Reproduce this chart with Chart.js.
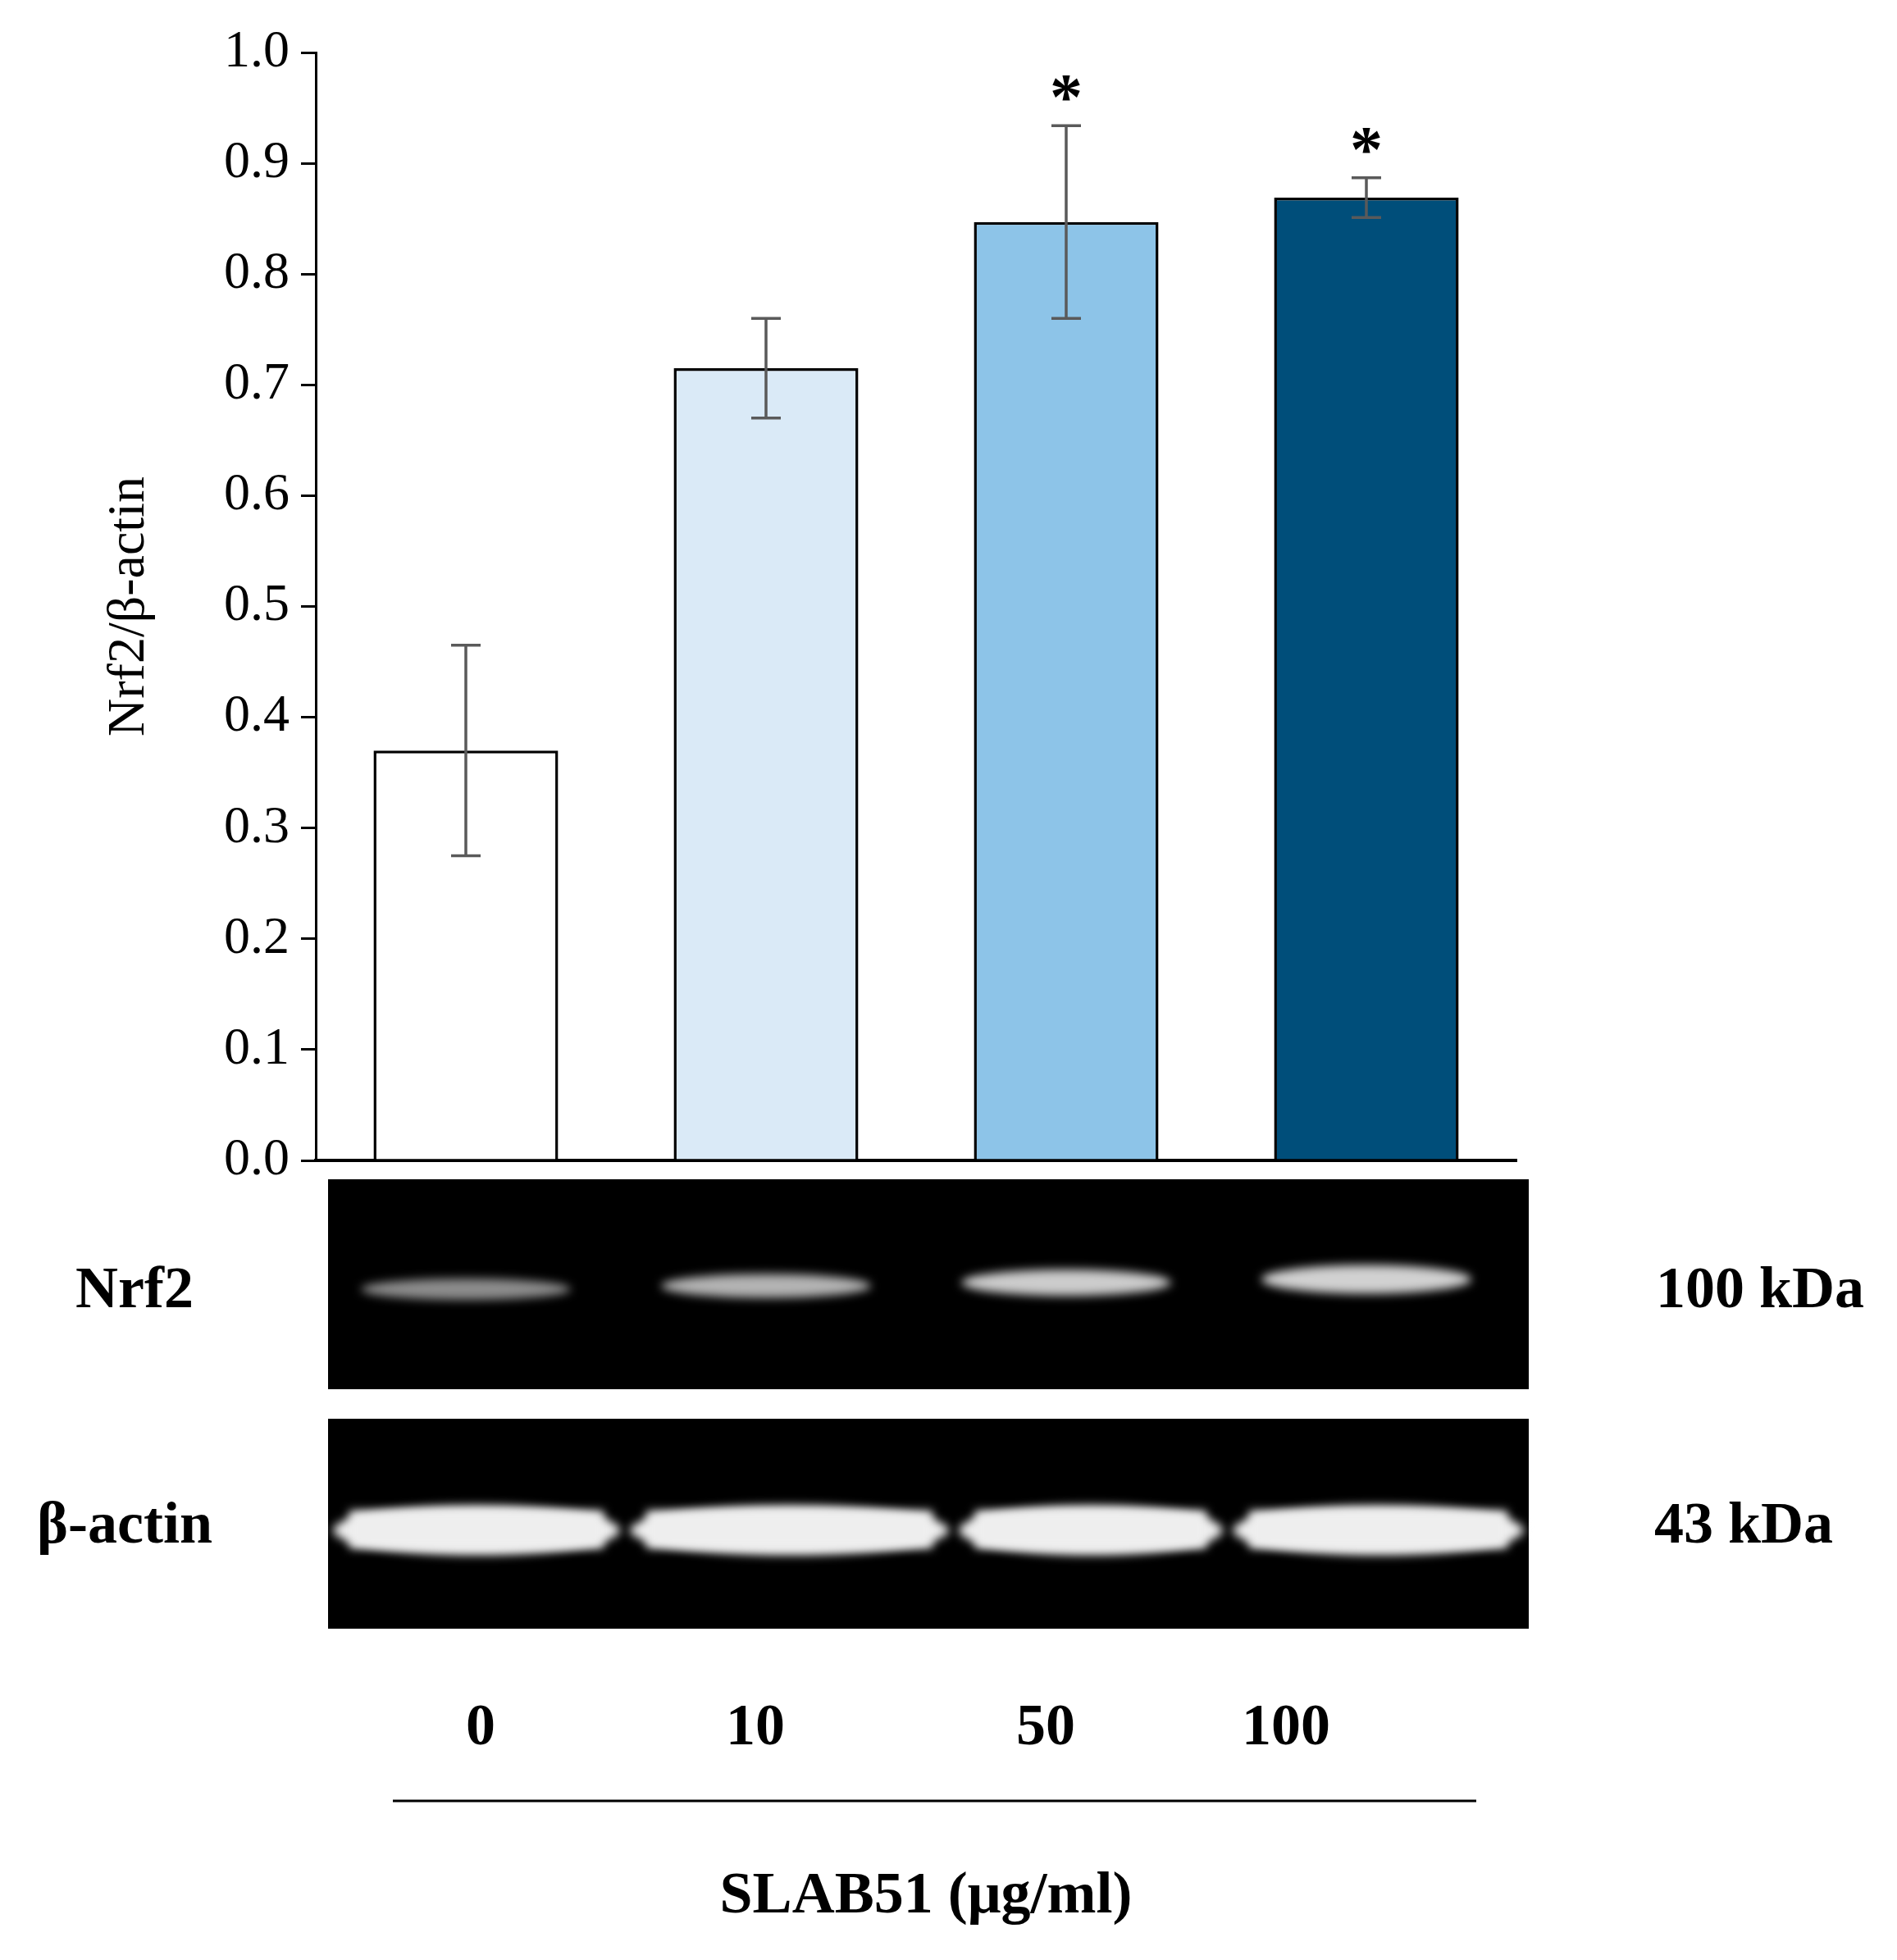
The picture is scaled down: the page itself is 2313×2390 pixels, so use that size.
<!DOCTYPE html>
<html><head><meta charset="utf-8">
<script src="https://cdn.jsdelivr.net/npm/chart.js@4.4.1/dist/chart.umd.min.js"></script>
<style>html,body{margin:0;padding:0;background:#fff}#wrap{width:2313px;height:2390px}</style>
</head><body><div id="wrap"><canvas id="c" width="2313" height="2390"></canvas></div>
<script>
const categories = ['0','10','50','100'];
const values = [0.37, 0.715, 0.847, 0.869];
const errors = [0.095, 0.045, 0.087, 0.018];
const significant = [false, false, true, true];
const barColors = ['#ffffff','#daeaf7','#8dc4e8','#004e7a'];
const nrf2Intensity = [0.55, 0.7, 0.8, 0.82];
const yTicks = [0,0.1,0.2,0.3,0.4,0.5,0.6,0.7,0.8,0.9,1.0];

const SERIF = '"Liberation Serif", "DejaVu Serif", serif';

const overlay = {
  id:'overlay',
  afterDatasetsDraw(chart){
    const ctx = chart.ctx, y = chart.scales.y, meta = chart.getDatasetMeta(0);
    ctx.save();
    // error bars
    ctx.strokeStyle = '#5a5a5a'; ctx.lineWidth = 3.5;
    meta.data.forEach((bar,i)=>{
      const x = bar.x, t = y.getPixelForValue(values[i]+errors[i]), b = y.getPixelForValue(values[i]-errors[i]);
      ctx.beginPath();
      ctx.moveTo(x,t); ctx.lineTo(x,b);
      ctx.moveTo(x-18,t); ctx.lineTo(x+18,t);
      ctx.moveTo(x-18,b); ctx.lineTo(x+18,b);
      ctx.stroke();
      if (significant[i]) {
        ctx.fillStyle='#000'; ctx.font = 'bold 80px '+SERIF; ctx.textAlign='center'; ctx.textBaseline='alphabetic';
        ctx.fillText('*', x, t - 8);
      }
    });
    ctx.restore();
  },
  afterDraw(chart){
    const ctx = chart.ctx, meta = chart.getDatasetMeta(0);
    const xs = meta.data.map(b=>b.x);
    ctx.save();
    // blot panels
    const L=400, R=1864;
    ctx.fillStyle='#000';
    ctx.fillRect(L,1438,R-L,256);
    ctx.fillRect(L,1730,R-L,256);
    // Nrf2 bands
    ctx.filter='blur(6px)';
    xs.forEach((x,i)=>{
      const g = Math.round(255*nrf2Intensity[i]);
      ctx.fillStyle=`rgb(${g},${g},${g})`;
      ctx.beginPath();
      ctx.ellipse(x, 1572 - i*4, 128, 13 + i*1.5, 0, 0, Math.PI*2);
      ctx.fill();
    });
    // beta-actin bands
    ctx.fillStyle='#eeeeee';
    const edges=[L, 762, 1163, 1497, R];
    for(let i=0;i<4;i++){
      const a=edges[i]+6, b=edges[i+1]-6;
      ctx.beginPath();
      ctx.ellipse((a+b)/2, 1866, (b-a)/2, 30, 0, 0, Math.PI*2);
      ctx.fill();
      ctx.fillRect(a+20, 1842, b-a-40, 46);
    }
    ctx.filter='none';
    // labels
    ctx.fillStyle='#000'; ctx.textBaseline='middle'; ctx.textAlign='center';
    ctx.font='bold 72px '+SERIF;
    ctx.fillText('Nrf2', 164, 1575);
    ctx.fillText('100 kDa', 2146, 1575);
    ctx.fillText('β-actin', 152, 1862);
    ctx.fillText('43 kDa', 2126, 1862);
    const labX=[586,921,1275,1568];
    categories.forEach((c,i)=>ctx.fillText(c, labX[i], 2108));
    ctx.fillText('SLAB51 (μg/ml)', 1129, 2313);
    ctx.strokeStyle='#000'; ctx.lineWidth=3;
    ctx.beginPath(); ctx.moveTo(479,2196); ctx.lineTo(1800,2196); ctx.stroke();
    ctx.restore();
  }
};

new Chart(document.getElementById('c'), {
  type:'bar',
  data:{ labels:categories, datasets:[{ data:values, backgroundColor:barColors, borderColor:'#000', borderWidth:3.5, categoryPercentage:1, barPercentage:0.615 }]},
  options:{
    responsive:false, animation:false, devicePixelRatio:1,
    layout:{padding:{left:120, top:64, right:464, bottom:975}},
    plugins:{legend:{display:false}, tooltip:{enabled:false}},
    scales:{
      x:{ ticks:{display:false}, grid:{display:false, drawTicks:false}, border:{color:'#000', width:4},
          afterFit(a){ a.height = 0; } },
      y:{ min:0, max:1, afterBuildTicks(a){ a.ticks = yTicks.map(v=>({value:v})); },
          ticks:{ font:{family:SERIF, size:64}, color:'#000', padding:14, callback:v=>v.toFixed(1) },
          grid:{ drawOnChartArea:false, tickLength:18, color:'#000', lineWidth:3 },
          border:{color:'#000', width:3},
          title:{ display:true, text:'Nrf2/β-actin', font:{family:SERIF, size:64}, color:'#000', padding:0 },
          afterFit(a){ a.width = 265; } }
    }
  },
  plugins:[overlay]
});
</script></body></html>
